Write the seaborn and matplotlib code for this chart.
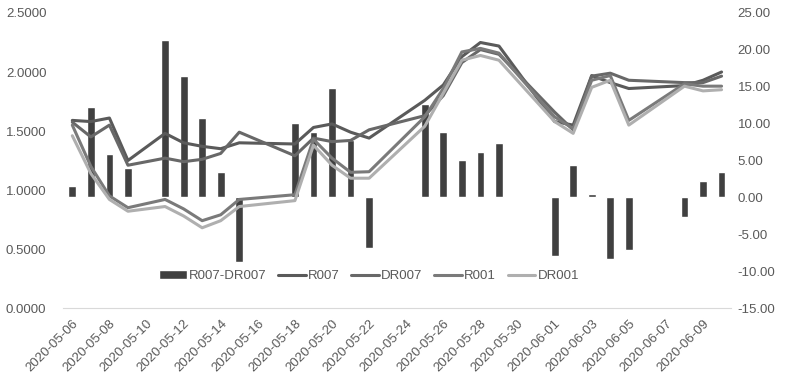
import pandas as pd
import numpy as np
import matplotlib
matplotlib.use('Agg')
import matplotlib.pyplot as plt
import seaborn as sns
from matplotlib.ticker import FuncFormatter


dates = ['2020-05-06', '2020-05-07', '2020-05-08', '2020-05-09', '2020-05-11',
         '2020-05-12', '2020-05-13', '2020-05-14', '2020-05-15', '2020-05-18',
         '2020-05-19', '2020-05-20', '2020-05-21', '2020-05-22', '2020-05-25',
         '2020-05-26', '2020-05-27', '2020-05-28', '2020-05-29', '2020-06-01',
         '2020-06-02', '2020-06-03', '2020-06-04', '2020-06-05', '2020-06-08',
         '2020-06-09', '2020-06-10']

# R007-DR007 spread (bp, right axis)
spread = [1.5, 12.3, 5.9, 4.0, 21.3, 16.4, 10.8, 3.5, -8.7, 10.1,
          8.9, 14.8, 7.8, -6.9, 12.7, 8.8, 5.1, 6.2, 7.4, -7.9,
          4.4, 0.4, -8.4, -7.1, -2.7, 2.2, 3.5]

# rates (left axis)
r007 = [1.59, 1.58, 1.61, 1.25, 1.48, 1.40, 1.37, 1.35, 1.40, 1.39,
        1.53, 1.56, 1.49, 1.44, 1.76, 1.89, 2.13, 2.25, 2.22, 1.58,
        1.55, 1.97, 1.91, 1.86, 1.885, 1.93, 2.00]
dr007 = [1.575, 1.45, 1.55, 1.21, 1.27, 1.24, 1.26, 1.31, 1.49, 1.29,
         1.44, 1.41, 1.42, 1.51, 1.63, 1.80, 2.08, 2.19, 2.15, 1.66,
         1.51, 1.965, 1.99, 1.93, 1.91, 1.91, 1.965]
r001 = [1.55, 1.20, 0.95, 0.85, 0.92, 0.84, 0.74, 0.79, 0.92, 0.96,
        1.43, 1.27, 1.15, 1.155, 1.62, 1.86, 2.17, 2.20, 2.16, 1.62,
        1.52, 1.93, 1.97, 1.59, 1.90, 1.88, 1.88]
dr001 = [1.46, 1.14, 0.92, 0.82, 0.86, 0.78, 0.68, 0.74, 0.86, 0.91,
         1.38, 1.21, 1.10, 1.10, 1.54, 1.82, 2.10, 2.14, 2.10, 1.58,
         1.48, 1.87, 1.93, 1.55, 1.88, 1.84, 1.85]

sns.set_style('white')
plt.rcParams['font.family'] = ['Liberation Sans', 'DejaVu Sans']

dt = pd.to_datetime(dates)
start = pd.Timestamp('2020-05-06')
end = pd.Timestamp('2020-06-10')
df = pd.DataFrame({'day': (dt - start).days, 'spread': spread,
                   'R007': r007, 'DR007': dr007, 'R001': r001, 'DR001': dr001})
n_days = (end - start).days + 1

fig = plt.figure(figsize=(7.85, 3.79), dpi=100)
ax = fig.add_axes([0.0803, 0.1873, 0.8507, 0.7784])
ax2 = ax.twinx()

sns.barplot(data=df, x='day', y='spread', native_scale=True, width=0.42,
            color='#404040', saturation=1, ax=ax2, label='R007-DR007')

line_colors = {'R007': '#5a5a5a', 'DR007': '#686868', 'R001': '#7a7a7a', 'DR001': '#afafaf'}
for name, c in line_colors.items():
    sns.lineplot(data=df, x='day', y=name, color=c, linewidth=2.2, ax=ax, label=name)

ax.set_zorder(ax2.get_zorder() + 1)
ax.patch.set_visible(False)

ax.set_ylim(0, 2.5)
ax2.set_ylim(-15, 25)
ax.set_yticks(np.arange(0, 2.51, 0.5))
ax2.set_yticks(np.arange(-15, 25.1, 5))
ax.yaxis.set_major_formatter(FuncFormatter(lambda v, p: f'{v:.4f}'))
ax2.yaxis.set_major_formatter(FuncFormatter(lambda v, p: f'{v:.2f}'))

label_days = np.arange(0, n_days, 2)
ax.set_xticks(label_days)
ax.set_xticklabels([(start + pd.Timedelta(days=int(d))).strftime('%Y-%m-%d') for d in label_days],
                   rotation=45, ha='right', rotation_mode='anchor')
ax.set_xticks(np.arange(-0.5, n_days, 2), minor=True)
ax.set_xlim(-0.5, n_days - 0.5)
ax.tick_params(axis='x', which='major', length=0, pad=7, labelsize=9.5, labelcolor='#595959')
ax.tick_params(axis='x', which='minor', length=4, width=0.8, color='#d9d9d9', direction='out')
ax.tick_params(axis='y', length=0, pad=12, labelsize=9.5, labelcolor='#595959')
ax2.tick_params(axis='y', length=0, pad=5, labelsize=9.5, labelcolor='#595959')

ax.set_xlabel('')
ax.set_ylabel('')
ax2.set_xlabel('')
ax2.set_ylabel('')

for a in (ax, ax2):
    for s in ('top', 'left', 'right'):
        a.spines[s].set_visible(False)
ax2.spines['bottom'].set_visible(False)
ax.spines['bottom'].set_color('#d9d9d9')
ax.spines['bottom'].set_linewidth(0.8)

h1, l1 = ax2.get_legend_handles_labels()
h2, l2 = ax.get_legend_handles_labels()
if ax2.get_legend():
    ax2.get_legend().remove()
ax.legend(h1 + h2, l1 + l2, loc='center', bbox_to_anchor=(0.458, 0.108), ncol=5,
          frameon=False, fontsize=9.5, handlelength=2.1, handletextpad=0.15,
          columnspacing=0.9, labelcolor='#595959')

fig.savefig('out.png', dpi=100)
